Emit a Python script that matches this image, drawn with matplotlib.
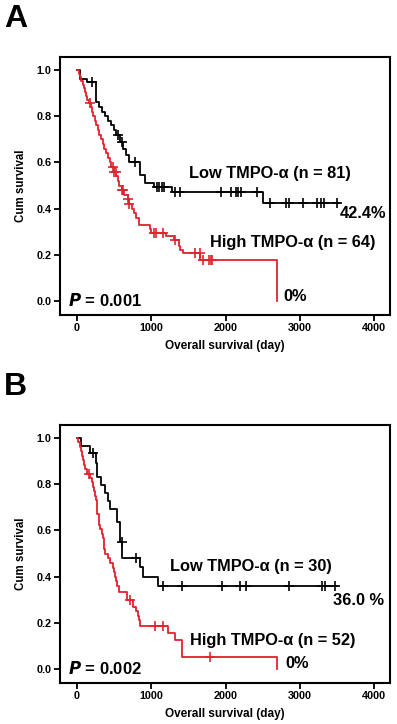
import numpy as np
import matplotlib
matplotlib.use("Agg")
import matplotlib.pyplot as plt

plt.rcParams['font.family'] = ['Liberation Sans', 'DejaVu Sans']

RED = '#e3222f'

# panel A, low TMPO-alpha (n = 81)
a_low_t = [40, 130, 250, 290, 330, 380, 420, 460, 500, 530, 580, 620, 660, 700,
           845, 915, 1040, 1275, 2500, 3530]
a_low_s = [0.963, 0.95, 0.86, 0.84, 0.82, 0.80, 0.78, 0.76, 0.74, 0.72, 0.69, 0.66,
           0.63, 0.60, 0.545, 0.51, 0.495, 0.473, 0.424, 0.424]
a_low_cens = [200, 550, 610, 780, 1080, 1110, 1140, 1170, 1320, 1390, 1940, 2080,
              2140, 2170, 2210, 2420, 2600, 2820, 2850, 3050, 3230, 3280, 3330, 3500]

# panel A, high TMPO-alpha (n = 64)
a_high_t = [25, 45, 60, 75, 90, 105, 120, 135, 160, 190, 205, 220, 240, 260, 280,
            300, 320, 345, 370, 395, 420, 440, 460, 500, 530, 550, 560, 600, 630,
            680, 700, 740, 770, 800, 830, 980, 1000, 1200, 1300, 1370, 1390, 1430,
            1660, 2690]
a_high_s = [0.984, 0.968, 0.952, 0.936, 0.92, 0.904, 0.888, 0.872, 0.856, 0.838,
            0.82, 0.80, 0.78, 0.76, 0.74, 0.72, 0.70, 0.68, 0.66, 0.64, 0.62, 0.60,
            0.58, 0.56, 0.54, 0.52, 0.50, 0.48, 0.46, 0.44, 0.42, 0.40, 0.38, 0.36,
            0.33, 0.31, 0.293, 0.28, 0.264, 0.24, 0.22, 0.206, 0.177, 0.0]
a_high_cens = [180, 480, 500, 520, 600, 620, 680, 700, 1040, 1060, 1160, 1320,
               1590, 1650, 1700, 1780, 1800, 1820]

# panel B, low TMPO-alpha (n = 30)
b_low_t = [60, 175, 255, 265, 320, 375, 420, 445, 535, 580, 610, 850, 890, 1095, 3500]
b_low_s = [0.967, 0.933, 0.89, 0.833, 0.795, 0.76, 0.727, 0.694, 0.635, 0.55,
           0.479, 0.443, 0.40, 0.36, 0.36]
b_low_cens = [210, 600, 790, 1160, 1410, 1950, 2190, 2280, 2855, 3295, 3340, 3480]

# panel B, high TMPO-alpha (n = 52)
b_high_t = [20, 40, 55, 70, 80, 90, 110, 130, 175, 200, 215, 235, 245, 255, 265,
            270, 275, 290, 300, 310, 330, 345, 360, 370, 380, 420, 445, 480, 495,
            510, 520, 540, 560, 670, 760, 800, 820, 840, 850, 1230, 1320, 1410, 2690]
b_high_s = [0.981, 0.962, 0.942, 0.923, 0.904, 0.885, 0.865, 0.846, 0.827, 0.808,
            0.789, 0.77, 0.75, 0.73, 0.71, 0.69, 0.67, 0.645, 0.625, 0.605, 0.585,
            0.565, 0.545, 0.52, 0.50, 0.48, 0.458, 0.438, 0.418, 0.40, 0.38, 0.36,
            0.335, 0.30, 0.27, 0.25, 0.23, 0.21, 0.187, 0.156, 0.127, 0.054, 0.0]
b_high_cens = [165, 720, 1050, 1160, 1790]

panels = [
    dict(letter='A', low=(a_low_t, a_low_s, a_low_cens), high=(a_high_t, a_high_s, a_high_cens),
         low_lbl='Low TMPO-α (n = 81)', high_lbl='High TMPO-α (n = 64)',
         low_pct='42.4%', pval='0.001',
         low_xy=(1508, 0.55), pct_xy=(3542, 0.377), high_xy=(1791, 0.255), zero_xy=(2774, 0.02)),
    dict(letter='B', low=(b_low_t, b_low_s, b_low_cens), high=(b_high_t, b_high_s, b_high_cens),
         low_lbl='Low TMPO-α (n = 30)', high_lbl='High TMPO-α (n = 52)',
         low_pct='36.0 %', pval='0.002',
         low_xy=(1253, 0.443), pct_xy=(3448, 0.295), high_xy=(1522, 0.122), zero_xy=(2801, 0.023)),
]

fig = plt.figure(figsize=(3.97, 7.24), dpi=100)
W, H = 397, 724
tops = [57, 425]


def km_curve(ax, times, surv, cens, color):
    t = np.r_[0, times]
    s = np.r_[1.0, surv]
    ax.step(t, s, where='post', color=color, lw=1.3, zorder=3)
    idx = np.searchsorted(t, cens, side='right') - 1
    ax.plot(cens, s[idx], ls='none', marker='+', ms=7, mew=1.2, color=color, zorder=4)


for p, top in zip(panels, tops):
    ax = fig.add_axes([60 / W, (H - top - 258) / H, 330 / W, 258 / H])
    km_curve(ax, *p['low'], 'black')
    km_curve(ax, *p['high'], RED)
    ax.set_xlim(-229, 4215)
    ax.set_ylim(-0.0606, 1.0563)
    ax.set_xticks([0, 1000, 2000, 3000, 4000])
    ax.set_yticks([0.0, 0.2, 0.4, 0.6, 0.8, 1.0])
    ax.set_yticklabels(['0.0', '0.2', '0.4', '0.6', '0.8', '1.0'])
    for sp in ax.spines.values():
        sp.set_linewidth(1.5)
    ax.tick_params(direction='out', length=4, width=1.3, labelsize=7.8, pad=2)
    for lab in ax.get_xticklabels() + ax.get_yticklabels():
        lab.set_fontweight('bold')
    ax.set_ylabel('Cum survival', fontsize=8.3, fontweight='bold')
    ax.set_xlabel('Overall survival (day)', fontsize=8.5, fontweight='bold')
    ax.yaxis.set_label_coords(-0.1, 0.5)
    ax.xaxis.set_label_coords(0.5, -0.097)

    fs = 11.8
    ax.text(*p['low_xy'], p['low_lbl'], fontsize=fs, fontweight='bold', va='center')
    ax.text(*p['pct_xy'], p['low_pct'], fontsize=fs, fontweight='bold', va='center')
    ax.text(*p['high_xy'], p['high_lbl'], fontsize=fs, fontweight='bold', va='center')
    ax.text(*p['zero_xy'], '0%', fontsize=fs, fontweight='bold', va='center')
    ax.text(-121, 0.004, r'$\mathbfit{P}$' + ' = ' + p['pval'], fontsize=12,
            fontweight='bold', va='center')

    fig.text(4 / W, 1 - (top - 38) / H, p['letter'], fontsize=23, fontweight='bold',
             va='center', ha='left')

fig.savefig('out.png', dpi=100)
